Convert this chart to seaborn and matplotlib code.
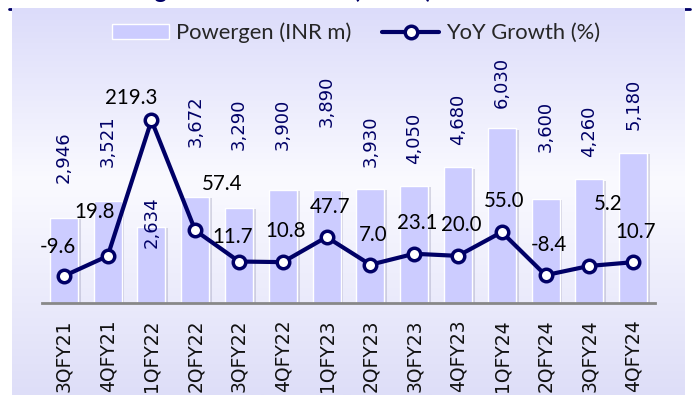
import numpy as np
import pandas as pd
import matplotlib
matplotlib.use('Agg')
import matplotlib.pyplot as plt
import matplotlib.patheffects as pe
from matplotlib.patches import Patch
from matplotlib.lines import Line2D
import seaborn as sns


quarters = ['3QFY21', '4QFY21', '1QFY22', '2QFY22', '3QFY22', '4QFY22', '1QFY23',
            '2QFY23', '3QFY23', '4QFY23', '1QFY24', '2QFY24', '3QFY24', '4QFY24']
powergen = [2946, 3521, 2634, 3672, 3290, 3900, 3890, 3930, 4050, 4680, 6030, 3600, 4260, 5180]
yoy_growth = [-9.6, 19.8, 219.3, 57.4, 11.7, 10.8, 47.7, 7.0, 23.1, 20.0, 55.0, -8.4, 5.2, 10.7]

# label nudges (pixels)
bar_label_dy = [35, 34, -21, 50, 58, 40, 63, 22, 22, 22, 20, 47, 22, 23]
growth_label_off = [(-6, 29), (-13, 44), (-20, 22), (27, 46), (-6, 25), (3, 31), (3, 30),
                    (3, 30), (3, 31), (3, 31), (2, 31), (3, 30), (19, 62), (3, 30)]

NAVY = '#000066'
BAR = '#CCCCFF'

df = pd.DataFrame({'quarter': quarters, 'powergen': powergen, 'yoy': yoy_growth})

sns.set_style('white')
plt.rcParams['font.family'] = ['DejaVu Sans']

W, H = 694, 409
fig = plt.figure(figsize=(W / 100, H / 100), dpi=100)
fig.patch.set_facecolor('white')

# navy rule peeking out at the top corners + cut-off title
fig.add_artist(Line2D([9 / W, 690 / W], [1 - 9 / H] * 2, color=NAVY, lw=2, zorder=-3))
fig.text(432 / W, 1 + 2 / H, 'Powergen revenue trend (INR m)', ha='right', va='baseline',
         fontfamily='Lato', fontweight='bold', fontsize=17, color=NAVY)

# gradient background panel
bg = fig.add_axes([12 / W, 14 / H, 673 / W, 387 / H], zorder=-1)
stops = np.array([0.0, 0.45, 1.0])
top, mid, bot = np.array([220, 220, 250]), np.array([250, 250, 255]), np.array([222, 222, 248])
t = np.linspace(0, 1, 256)
grad = np.stack([np.interp(t, stops, [top[c], mid[c], bot[c]]) for c in range(3)], axis=-1) / 255
bg.imshow(grad[:, None, :], aspect='auto', extent=[0, 1, 0, 1])
bg.axis('off')

ax = fig.add_axes([42 / W, 106 / H, 613 / W, 261 / H])
ax.set_facecolor('none')
sns.barplot(data=df, x='quarter', y='powergen', color=BAR, saturation=1, width=0.64,
            edgecolor='white', linewidth=1, ax=ax)
for p in ax.patches:
    p.set_path_effects([pe.SimplePatchShadow(offset=(2, -1), shadow_rgbFace='#8888aa', alpha=0.3),
                        pe.Normal()])
ax.set_ylim(0, 9000)
ax.set_xlim(-0.5, len(quarters) - 0.5)
ax.set_xlabel('')
ax.set_ylabel('')
ax.set_yticks([])
ax.tick_params(axis='x', length=0, pad=12, labelsize=13.5, labelrotation=90, colors='#111111')
for s in ['top', 'left', 'right']:
    ax.spines[s].set_visible(False)
ax.spines['bottom'].set_color('#888888')
ax.spines['bottom'].set_linewidth(2)

for i, v in enumerate(powergen):
    ax.annotate(f'{v:,}', xy=(i, v), xytext=(0, bar_label_dy[i]), textcoords='offset pixels',
                rotation=90, ha='center', va='bottom', fontsize=13, color=NAVY)

ax2 = ax.twinx()
sns.lineplot(data=df, x='quarter', y='yoy', sort=False, ax=ax2, color=NAVY, linewidth=3,
             marker='o', markersize=9, markerfacecolor='white', markeredgecolor=NAVY,
             markeredgewidth=2.5, legend=False)
ax2.set_ylim(-49.3, 334.5)
ax2.set_yticks([])
ax2.set_ylabel('')
for s in ax2.spines.values():
    s.set_visible(False)

for i, v in enumerate(yoy_growth):
    dx, dy = growth_label_off[i]
    ax2.annotate(f'{v:.1f}', xy=(i, v), xytext=(dx, dy), textcoords='offset pixels',
                 ha='center', va='center', fontfamily='Lato', fontsize=14.8, color='black')

handles = [Patch(facecolor=BAR, edgecolor='white'),
           Line2D([], [], color=NAVY, lw=3, marker='o', markersize=9, markerfacecolor='white',
                  markeredgecolor=NAVY, markeredgewidth=2.5)]
fig.legend(handles, ['Powergen (INR m)', 'YoY Growth (%)'], loc='center',
           bbox_to_anchor=(356 / W, 1 - 33 / H), ncol=2, frameon=False,
           prop={'family': 'Lato', 'size': 15.8}, handlelength=2.6, columnspacing=1.4,
           handletextpad=0.3)

fig.savefig('out.png', dpi=100)
